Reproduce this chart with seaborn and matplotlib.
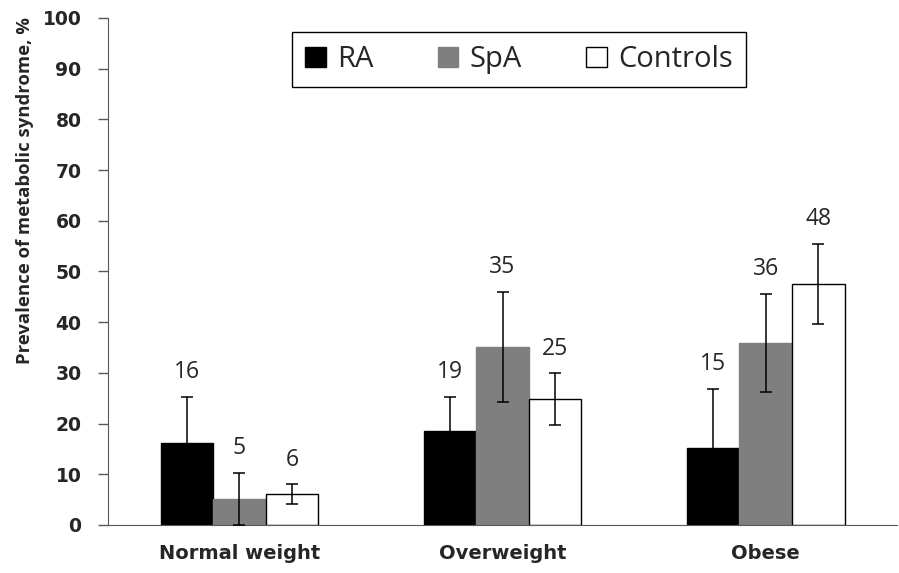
import matplotlib
matplotlib.use("Agg")
import matplotlib.pyplot as plt
import seaborn as sns
import pandas as pd

# data
groups = ["Normal weight", "Overweight", "Obese"]
cohorts = ["RA", "SpA", "Controls"]
ra_vals = [16.2, 18.5, 15.2]
spa_vals = [5.1, 35.1, 35.9]
ctrl_vals = [6.1, 24.8, 47.5]
ra_err = [9.0, 6.7, 11.6]
spa_err = [5.2, 10.8, 9.7]
ctrl_err = [1.9, 5.1, 7.9]
ra_labels = ["16", "19", "15"]
spa_labels = ["5", "35", "36"]
ctrl_labels = ["6", "25", "48"]
y_ticks = [0, 10, 20, 30, 40, 50, 60, 70, 80, 90, 100]

errors = [ra_err, spa_err, ctrl_err]
labels = [ra_labels, spa_labels, ctrl_labels]

df = pd.DataFrame({
    "group": groups * 3,
    "cohort": [c for c in cohorts for _ in groups],
    "value": ra_vals + spa_vals + ctrl_vals,
})

sns.set_style("white")
plt.rcParams["font.family"] = ["Open Sans", "DejaVu Sans"]

fig = plt.figure(figsize=(8.99, 5.73), dpi=100)
ax = fig.add_axes([0.120, 0.0838, 0.878, 0.885])

colors = {"RA": "black", "SpA": "#7f7f7f", "Controls": "white"}
edges = ["black", "#7f7f7f", "black"]
sns.barplot(data=df, x="group", y="value", hue="cohort", order=groups,
            hue_order=cohorts, palette=colors, width=0.6, errorbar=None,
            ax=ax, zorder=2)

# copy first: errorbar() appends its own containers
bar_containers = list(ax.containers)
for i, cont in enumerate(bar_containers):
    for j, bar in enumerate(cont):
        bar.set_edgecolor(edges[i])
        bar.set_linewidth(1.0)
        xc = bar.get_x() + bar.get_width() / 2
        h = bar.get_height()
        ax.errorbar(xc, h, yerr=errors[i][j], fmt="none", ecolor="black",
                    elinewidth=1.1, capsize=4.5, capthick=1.1, zorder=3)
        ax.annotate(labels[i][j], (xc, h + errors[i][j]), xytext=(0, 13.5),
                    textcoords="offset points", ha="center", va="baseline",
                    fontsize=16.5, color="#262626")

ax.set_xlim(-0.5, 2.5)
ax.set_ylim(0, 100)
ax.set_yticks(y_ticks)
ax.set_xlabel("")
ax.set_ylabel("Prevalence of metabolic syndrome, %", fontsize=13.3,
              fontweight="bold")
ax.yaxis.set_label_coords(-0.093, 0.659)
ax.tick_params(axis="y", direction="out", length=7, width=1, color="#595959",
               pad=12, left=True)
ax.tick_params(axis="x", length=0, pad=14)
for lab in ax.get_yticklabels():
    lab.set_fontfamily("DejaVu Sans")
    lab.set_fontweight("bold")
    lab.set_fontsize(13.5)
for lab in ax.get_xticklabels():
    lab.set_fontfamily("DejaVu Sans")
    lab.set_fontweight("bold")
    lab.set_fontsize(14)

sns.despine(ax=ax, top=True, right=True)
ax.spines["left"].set_color("#595959")
ax.spines["bottom"].set_color("#595959")

handles, names = ax.get_legend_handles_labels()
leg = ax.legend(handles, names, ncol=3, loc="upper center",
                bbox_to_anchor=(0.521, 0.972), borderaxespad=0,
                fontsize=21, frameon=True, fancybox=False,
                edgecolor="black", framealpha=1, handlelength=0.7,
                handleheight=0.7, handletextpad=0.4, columnspacing=2.2,
                borderpad=0.45)
leg.get_frame().set_linewidth(1.0)
for k, hnd in enumerate(leg.legend_handles):
    hnd.set_edgecolor(edges[k])
    hnd.set_linewidth(1.0)

fig.savefig("out.png", dpi=100)
